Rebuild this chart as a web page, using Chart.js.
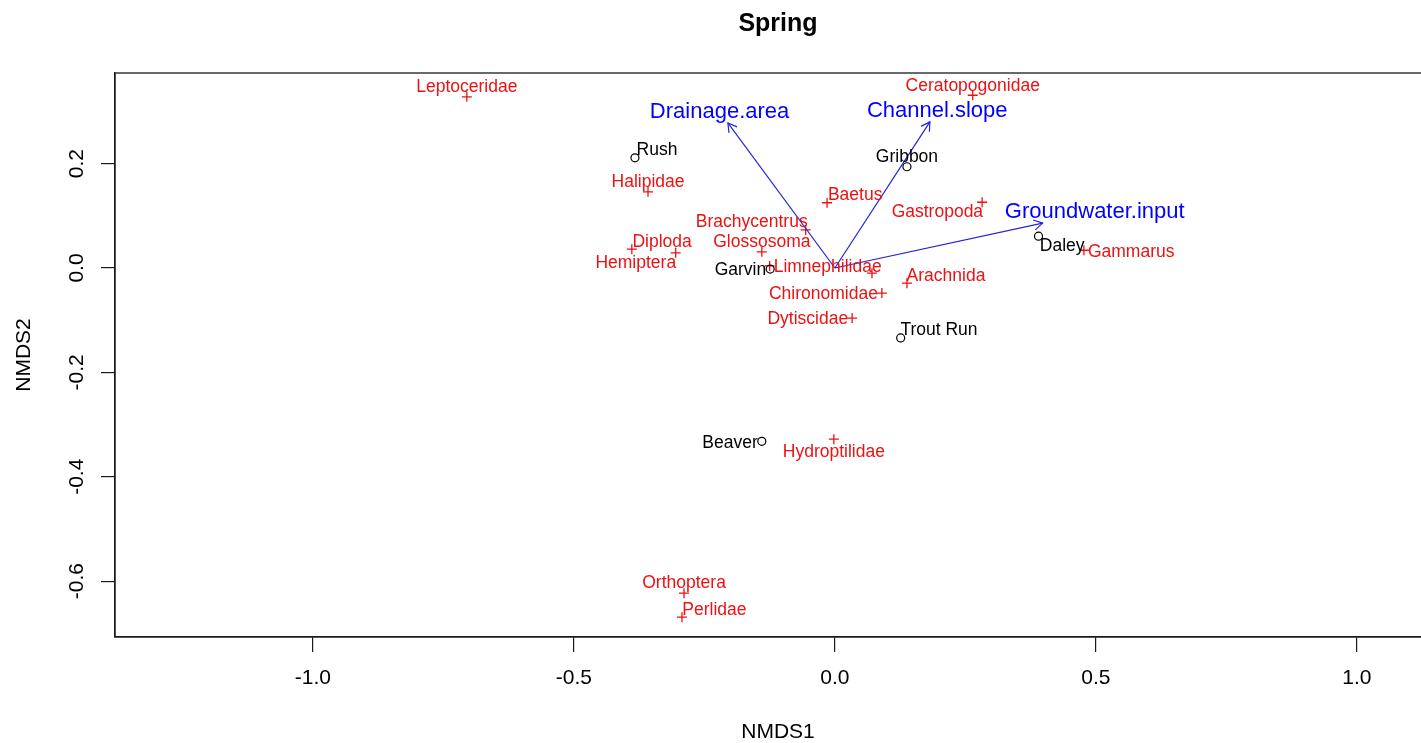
<!DOCTYPE html>
<html>
<head>
<meta charset="utf-8">
<script src="https://cdn.jsdelivr.net/npm/chart.js@4.4.0/dist/chart.umd.min.js"></script>
<style>
  html, body { margin: 0; padding: 0; background: #ffffff; overflow: hidden; }
  #wrap { width: 1421px; height: 743px; overflow: hidden; position: relative; }
  canvas { display: block; }
</style>
</head>
<body>
<div id="wrap"><canvas id="nmds" width="1460" height="743"></canvas></div>
<script>
// NMDS site scores
const siteNames = ['Rush', 'Gribbon', 'Daley', 'Garvin', 'Trout Run', 'Beaver'];
const siteX = [-0.383, 0.138, 0.390, -0.124, 0.126, -0.140];
const siteY = [0.211, 0.194, 0.061, -0.002, -0.134, -0.332];

// NMDS species scores
const speciesNames = ['Leptoceridae', 'Ceratopogonidae', 'Halipidae', 'Baetus', 'Gastropoda',
  'Brachycentrus', 'Glossosoma', 'Diploda', 'Hemiptera', 'Limnephilidae', 'Arachnida',
  'Chironomidae', 'Dytiscidae', 'Gammarus', 'Hydroptilidae', 'Orthoptera', 'Perlidae', ''];
const speciesX = [-0.705, 0.264, -0.358, -0.015, 0.282, -0.056, -0.140, -0.389, -0.305,
  -0.125, 0.138, 0.090, 0.033, 0.477, -0.002, -0.289, -0.293, 0.071];
const speciesY = [0.328, 0.331, 0.146, 0.125, 0.126, 0.073, 0.031, 0.036, 0.029,
  0.004, -0.029, -0.048, -0.096, 0.034, -0.328, -0.623, -0.669, -0.010];

// Fitted environmental vectors (arrow heads)
const envNames = ['Drainage.area', 'Channel.slope', 'Groundwater.input'];
const envX = [-0.205, 0.182, 0.398];
const envY = [0.278, 0.280, 0.086];

// Axis ticks
const xTicks = [-1.0, -0.5, 0.0, 0.5, 1.0];
const xTickLabels = ['-1.0', '-0.5', '0.0', '0.5', '1.0'];
const yTicks = [0.2, 0.0, -0.2, -0.4, -0.6];
const yTickLabels = ['0.2', '0.0', '-0.2', '-0.4', '-0.6'];

// Label placement around each point (1 top, 2 right, 3 bottom, 4 left,
// 5 upper-right, 6 lower-right, 7 lower-left, 8 upper-left, 0 none)
const siteLabelPos = [5, 1, 6, 4, 5, 4];
const speciesLabelPos = [1, 1, 1, 5, 7, 8, 1, 5, 7, 2, 5, 4, 4, 2, 3, 1, 5, 0];

const FONT = "'Liberation Sans', Arial, Helvetica, sans-serif";
const RED = '#ea1212';
const BLUE = '#0000ff';
const ARROW = '#2424d8';
const AXIS = '#1a1a1a';

Chart.defaults.font.family = FONT;
Chart.defaults.color = '#000';

const pts = (xs, ys) => xs.map((x, i) => ({ x: x, y: ys[i] }));

const arrowSets = envNames.map((n, i) => ({
  label: n,
  data: [{ x: 0, y: 0 }, { x: envX[i], y: envY[i] }],
  showLine: true,
  borderColor: ARROW,
  borderWidth: 1.2,
  pointRadius: 0,
  fill: false
}));

const DX = [0, 0, 1, 0, -1, 0.9, 0.9, -0.9, -0.9];
const DY = [0, 1, 0, -1, 0, 0.8, -0.8, -0.8, 0.8];

function drawPointLabels(ctx, xs, ys, names, posList, color, size, sx, sy) {
  ctx.save();
  ctx.font = size + 'px ' + FONT;
  ctx.fillStyle = color;
  ctx.textAlign = 'center';
  ctx.textBaseline = 'middle';
  const h = size * 1.26;
  names.forEach((name, i) => {
    const p = posList[i];
    if (!p || !name) return;
    const px = sx.getPixelForValue(xs[i]);
    const py = sy.getPixelForValue(ys[i]);
    const w = ctx.measureText(name).width + 8;
    ctx.fillText(name, px + DX[p] * w / 2, py - DY[p] * h / 2 + 1.5);
  });
  ctx.restore();
}

const decorations = {
  id: 'decorations',
  afterDatasetsDraw(chart) {
    const ctx = chart.ctx;
    const sx = chart.scales.x, sy = chart.scales.y;
    const a = chart.chartArea;

    // box around the plotting region
    ctx.save();
    ctx.strokeStyle = AXIS;
    ctx.lineWidth = 1.3;
    ctx.strokeRect(a.left, a.top, a.right - a.left, a.bottom - a.top);
    ctx.restore();

    // arrow heads and vector labels
    const ox = sx.getPixelForValue(0), oy = sy.getPixelForValue(0);
    ctx.save();
    ctx.strokeStyle = ARROW;
    ctx.lineWidth = 1.2;
    ctx.font = '22px ' + FONT;
    envNames.forEach((n, i) => {
      const hx = sx.getPixelForValue(envX[i]);
      const hy = sy.getPixelForValue(envY[i]);
      const ang = Math.atan2(hy - oy, hx - ox);
      const L = 10, spread = Math.PI / 6;
      ctx.beginPath();
      ctx.moveTo(hx - L * Math.cos(ang - spread), hy - L * Math.sin(ang - spread));
      ctx.lineTo(hx, hy);
      ctx.lineTo(hx - L * Math.cos(ang + spread), hy - L * Math.sin(ang + spread));
      ctx.stroke();

      // label continues the arrow direction outside the text box
      const w = ctx.measureText(n).width;
      const th = 15;
      const dx = hx - ox, dyUp = oy - hy;
      const b = dyUp / dx;
      let offX = Math.sign(dx) * (w / 2 + th / 4);
      let offY = 0.75 * th * Math.sign(dyUp);
      const move = offY / b;
      if (isFinite(move) && Math.abs(move) <= Math.abs(offX)) offX = move;
      else offY = b * offX;
      ctx.fillStyle = BLUE;
      ctx.textAlign = 'center';
      ctx.textBaseline = 'middle';
      ctx.fillText(n, hx + offX, hy - offY);
    });
    ctx.restore();

    drawPointLabels(ctx, siteX, siteY, siteNames, siteLabelPos, '#000', 17.5, sx, sy);
    drawPointLabels(ctx, speciesX, speciesY, speciesNames, speciesLabelPos, RED, 17.5, sx, sy);
  },
  afterDraw(chart) {
    // y tick labels run parallel to the axis
    const ctx = chart.ctx;
    const sy = chart.scales.y;
    ctx.save();
    ctx.font = '21px ' + FONT;
    ctx.fillStyle = '#000';
    ctx.textAlign = 'center';
    ctx.textBaseline = 'middle';
    yTicks.forEach((v, i) => {
      ctx.save();
      ctx.translate(77, sy.getPixelForValue(v));
      ctx.rotate(-Math.PI / 2);
      ctx.fillText(yTickLabels[i], 0, 0);
      ctx.restore();
    });
    ctx.restore();
  }
};

new Chart(document.getElementById('nmds'), {
  type: 'scatter',
  data: {
    datasets: [
      ...arrowSets,
      {
        label: 'sites',
        data: pts(siteX, siteY),
        pointStyle: 'circle',
        pointRadius: 4,
        borderColor: '#000',
        backgroundColor: 'rgba(0,0,0,0)',
        borderWidth: 1.2
      },
      {
        label: 'species',
        data: pts(speciesX, speciesY),
        pointStyle: 'cross',
        pointRadius: 5,
        borderColor: RED,
        backgroundColor: RED,
        borderWidth: 1.3
      }
    ]
  },
  options: {
    responsive: false,
    animation: false,
    events: [],
    layout: { padding: { left: 0, right: 19, top: 0, bottom: 0 } },
    plugins: {
      legend: { display: false },
      tooltip: { enabled: false },
      title: {
        display: true,
        fullSize: false,
        text: 'Spring',
        color: '#000',
        font: { size: 25, weight: 'bold', family: FONT },
        padding: { top: 9, bottom: 34 }
      }
    },
    scales: {
      x: {
        type: 'linear',
        min: -1.379,
        max: 1.161,
        afterFit(scale) { scale.height = 106; },
        afterBuildTicks(scale) { scale.ticks = xTicks.map(v => ({ value: v })); },
        grid: { drawOnChartArea: false, drawTicks: true, tickLength: 15, color: AXIS, lineWidth: 1.2 },
        border: { display: true, color: AXIS, width: 1.3 },
        ticks: {
          autoSkip: false, maxRotation: 0, minRotation: 0, padding: 14,
          color: '#000', font: { size: 21, family: FONT },
          callback: (v, i) => xTickLabels[i]
        },
        title: { display: true, text: 'NMDS1', color: '#000', font: { size: 21, family: FONT }, padding: { top: 0, bottom: -2 } }
      },
      y: {
        type: 'linear',
        min: -0.707,
        max: 0.3736,
        afterFit(scale) { scale.width = 115; },
        afterBuildTicks(scale) { scale.ticks = yTicks.map(v => ({ value: v })); },
        grid: { drawOnChartArea: false, drawTicks: true, tickLength: 14, color: AXIS, lineWidth: 1.2 },
        border: { display: true, color: AXIS, width: 1.3 },
        ticks: { display: false },
        title: { display: true, text: 'NMDS2', color: '#000', font: { size: 21, family: FONT }, padding: { top: 12, bottom: 0 } }
      }
    }
  },
  plugins: [decorations]
});
</script>
</body>
</html>
